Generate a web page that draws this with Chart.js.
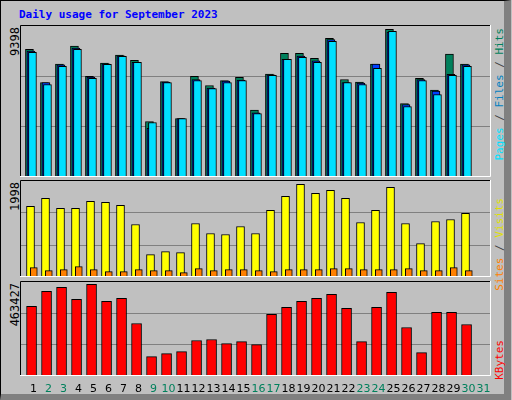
<!DOCTYPE html>
<html><head><meta charset="utf-8">
<script src="https://cdn.jsdelivr.net/npm/chart.js@4"></script>
<style>
html,body{margin:0;padding:0}
body{width:512px;height:400px;overflow:hidden;position:relative;background:#c0c0c0}
#frame{position:absolute;left:0;top:0;width:503px;height:393px;border:1px solid #000;border-right:7px solid #808080;border-bottom:6px solid #808080;box-sizing:content-box}
canvas{position:absolute}
.t{position:absolute;font-family:"DejaVu Sans Mono",monospace;white-space:nowrap}
.v{position:absolute;writing-mode:vertical-rl;transform:rotate(180deg);font-family:"DejaVu Sans Mono",monospace;font-size:11px;white-space:nowrap;line-height:12px}
</style></head><body>
<div id="frame"></div>
<div class="t" style="left:19px;top:8px;font-size:11px;font-weight:bold;color:#0000ff">Daily usage for September 2023</div>
<div class="v" style="left:9px;top:27px;font-size:12px">9398</div>
<div class="v" style="left:9px;top:182px;font-size:12px">1998</div>
<div class="v" style="left:9px;top:283px;font-size:12px">463427</div>
<div class="v" style="left:494px;top:28px"><span style="color:#00e0ff">Pages</span><span style="color:#404040"> / </span><span style="color:#0080c0">Files</span><span style="color:#404040"> / </span><span style="color:#00805c">Hits</span></div>
<div class="v" style="left:494px;top:198px"><span style="color:#ff8000">Sites</span><span style="color:#404040"> / </span><span style="color:#e0e000">Visits</span></div>
<div class="v" style="left:494px;top:340px;color:#ff0000">KBytes</div>
<canvas id="c1" width="471" height="152" style="left:20px;top:25px"></canvas>
<canvas id="c2" width="471" height="97" style="left:20px;top:180px"></canvas>
<canvas id="c3" width="471" height="119" style="left:20px;top:281px"></canvas>
<script>
const days=["1","2","3","4","5","6","7","8","9","10","11","12","13","14","15","16","17","18","19","20","21","22","23","24","25","26","27","28","29","30","31"];
const weekend=[2,3,9,10,16,17,23,24,30,31];
const hits=[7890,5845,6981,8097,6217,7043,7539,7209,3429,5907,3615,6217,5659,5969,6155,4131,6362,7642,7642,7333,8572,6031,5866,6981,9130,4544,6093,5370,7601,6981];
const files=[7787,5845,6940,7973,6176,7002,7498,7085,3016,5866,3615,6031,5494,5928,5990,3966,6320,7271,7477,7188,8489,5845,5804,6981,8964,4482,6031,5308,6341,6940];
const pages=[7704,5721,6837,7890,6093,6961,7457,7085,3367,5845,3615,5969,5474,5845,5969,3924,6279,7271,7394,7085,8386,5845,5721,6713,9006,4358,5969,5102,6279,6837];
const visits=[1454,1619,1412,1412,1557,1536,1474,1082,462,524,503,1102,896,875,1040,896,1371,1660,1908,1722,1784,1619,1123,1371,1846,1102,689,1144,1185,1309];
const sites=[193,131,152,214,152,110,110,152,131,131,90,172,131,152,152,131,110,152,152,152,172,172,152,152,152,172,131,131,193,131];
const kbytes=[339410,412840,432420,373680,447110,363890,378580,256190,94640,109330,119120,172970,177860,158280,168070,153390,300250,334510,363890,378580,398150,329620,168070,334510,407950,236610,114230,310040,310040,251290];
const maxes=[9398,1998,463427];

function pts(arr,off){return arr.map((v,i)=>({x:i+1+off,y:v}));}
const framePlugin={id:'frame',
 beforeDatasetsDraw(ch){const c=ch.ctx,a=ch.chartArea,y=ch.scales.y,m=ch.options.plugins.frame.max;
  c.save();c.strokeStyle='#808080';c.lineWidth=1;
  [m/3,2*m/3].forEach(v=>{const py=Math.round(y.getPixelForValue(v))+0.5;c.beginPath();c.moveTo(a.left,py);c.lineTo(a.right,py);c.stroke();});
  c.restore();},
 afterDraw(ch){const c=ch.ctx,W=ch.width,a=ch.chartArea;c.save();c.lineWidth=1;
  c.strokeStyle='#000';c.beginPath();c.moveTo(0.5,a.bottom);c.lineTo(0.5,0.5);c.lineTo(W,0.5);c.stroke();
  c.strokeStyle='#fff';c.beginPath();c.moveTo(W-0.5,0);c.lineTo(W-0.5,a.bottom-0.5);c.lineTo(0,a.bottom-0.5);c.stroke();
  if(ch.options.plugins.frame.labels){const x=ch.scales.x;c.font='11px "DejaVu Sans"';c.textAlign='center';c.textBaseline='middle';
   days.forEach((d,i)=>{c.fillStyle=weekend.includes(i+1)?'#00805c':'#000';c.fillText(d,x.getPixelForValue(i+1),a.bottom+13);});}
  c.restore();}};
function mk(id,sets,max,labels){
 return new Chart(document.getElementById(id),{type:'bar',
  data:{datasets:sets.map((s,k)=>({data:s.d,backgroundColor:s.c,borderColor:'#000',borderWidth:1,barThickness:s.w,borderSkipped:false,grouped:false,order:sets.length-k}))},
  options:{responsive:false,animation:false,events:[],
   layout:{padding:{bottom:labels?24:0}},
   plugins:{legend:{display:false},tooltip:{enabled:false},frame:{max:max,labels:labels}},
   scales:{x:{type:'linear',min:0.1,max:31.5,offset:false,bounds:'ticks',display:false},y:{min:0,max:max,display:false}}},
  plugins:[framePlugin]});}
mk('c1',[{d:pts(hits,-0.27),c:'#00805c',w:8},{d:pts(files,-0.17),c:'#0040ff',w:8},{d:pts(pages,-0.07),c:'#00e0ff',w:8}],maxes[0],false);
mk('c2',[{d:pts(visits,-0.2),c:'#ffff00',w:8},{d:pts(sites,0.02),c:'#ff8000',w:7}],maxes[1],false);
mk('c3',[{d:pts(kbytes,-0.13),c:'#ff0000',w:10}],maxes[2],true);
</script></body></html>
